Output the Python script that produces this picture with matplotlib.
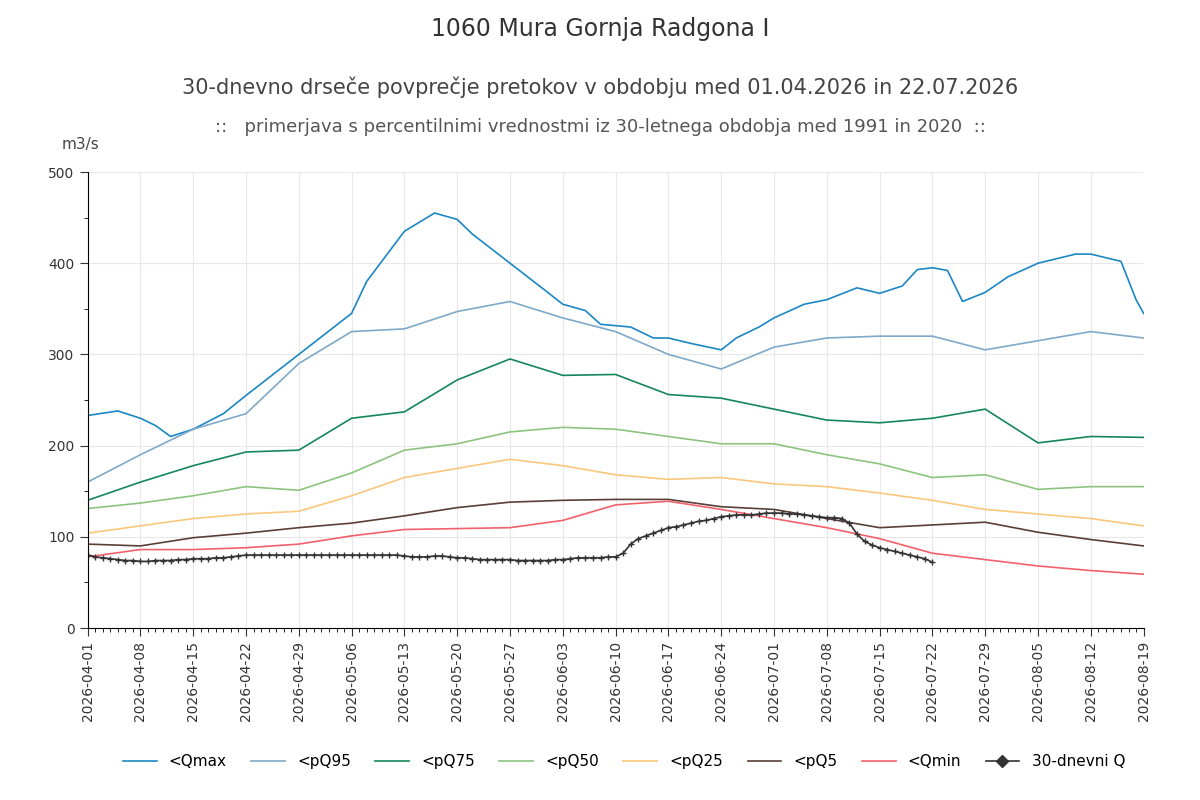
import matplotlib
matplotlib.use("Agg")
import matplotlib.pyplot as plt
import matplotlib.dates as mdates
from matplotlib.lines import Line2D
import pandas as pd

weeks = pd.date_range("2026-04-01", "2026-08-19", freq="7D")

qmax_dates = pd.to_datetime([
    "2026-04-01", "2026-04-05", "2026-04-08", "2026-04-10", "2026-04-12", "2026-04-15",
    "2026-04-19", "2026-04-22", "2026-04-29", "2026-05-06", "2026-05-08", "2026-05-13",
    "2026-05-17", "2026-05-20", "2026-05-22", "2026-05-27", "2026-06-01", "2026-06-03",
    "2026-06-06", "2026-06-08", "2026-06-12", "2026-06-15", "2026-06-17", "2026-06-20",
    "2026-06-24", "2026-06-26", "2026-06-29", "2026-07-01", "2026-07-05", "2026-07-08",
    "2026-07-12", "2026-07-15", "2026-07-18", "2026-07-20", "2026-07-22", "2026-07-24",
    "2026-07-26", "2026-07-29", "2026-08-01", "2026-08-05", "2026-08-10", "2026-08-12",
    "2026-08-16", "2026-08-18", "2026-08-19"])
qmax = [233, 238, 230, 222, 210, 218, 235, 255, 300, 345, 380, 435, 455, 448, 432, 400,
        368, 355, 348, 333, 330, 318, 318, 312, 305, 318, 330, 340, 355, 360, 373, 367,
        375, 393, 395, 392, 358, 368, 385, 400, 410, 410, 402, 360, 345]
pq95 = [160, 190, 218, 235, 290, 325, 328, 347, 358, 340, 325, 300, 284, 308, 318, 320, 320, 305, 315, 325, 318]
pq75 = [140, 160, 178, 193, 195, 230, 237, 272, 295, 277, 278, 256, 252, 240, 228, 225, 230, 240, 203, 210, 209]
pq50 = [131, 137, 145, 155, 151, 170, 195, 202, 215, 220, 218, 210, 202, 202, 190, 180, 165, 168, 152, 155, 155]
pq25 = [104, 112, 120, 125, 128, 145, 165, 175, 185, 178, 168, 163, 165, 158, 155, 148, 140, 130, 125, 120, 112]
pq5 = [92, 90, 99, 104, 110, 115, 123, 132, 138, 140, 141, 141, 133, 130, 120, 110, 113, 116, 105, 97, 90]
qmin = [78, 86, 86, 88, 92, 101, 108, 109, 110, 118, 135, 139, 130, 120, 110, 98, 82, 75, 68, 63, 59]

obs_dates = pd.date_range("2026-04-01", "2026-07-22", freq="D")
obs = [80, 78, 77, 76, 75, 74, 74, 73, 73, 74, 74, 74, 75, 75, 76, 76, 76, 77, 77, 78,
       79, 80, 80, 80, 80, 80, 80, 80, 80, 80, 80, 80, 80, 80, 80, 80, 80, 80, 80, 80,
       80, 80, 79, 78, 78, 78, 79, 79, 78, 77, 77, 76, 75, 75, 75, 75, 75, 74, 74, 74,
       74, 74, 75, 75, 76, 77, 77, 77, 77, 78, 78, 82, 92, 98, 101, 104, 107, 110, 111, 113,
       115, 117, 118, 120, 122, 123, 124, 124, 124, 125, 126, 126, 126, 125, 125, 124, 123, 122, 121, 121,
       120, 115, 103, 95, 91, 88, 86, 84, 82, 80, 78, 76, 72]

series = [
    ("<Qmax", qmax_dates, qmax, "#1b87c4"),
    ("<pQ95", weeks, pq95, "#7ea9c8"),
    ("<pQ75", weeks, pq75, "#14875a"),
    ("<pQ50", weeks, pq50, "#8cc47f"),
    ("<pQ25", weeks, pq25, "#fbc77c"),
    ("<pQ5", weeks, pq5, "#5b3e38"),
    ("<Qmin", weeks, qmin, "#f2616b"),
]

fig = plt.figure(figsize=(12, 8), dpi=100)
ax = fig.add_axes([0.073, 0.215, 0.88, 0.57])
for label, x, y, color in series:
    ax.plot(x, y, color=color, lw=1.2, label=label)
ax.plot(obs_dates, obs, color="#333333", lw=1.2, marker="+", ms=5, mew=1)

ax.set_xlim(pd.Timestamp("2026-04-01"), pd.Timestamp("2026-08-19"))
ax.set_ylim(0, 500)
ax.set_yticks(range(0, 501, 100))
ax.yaxis.set_minor_locator(matplotlib.ticker.MultipleLocator(50))
ax.set_xticks(weeks)
ax.xaxis.set_major_formatter(mdates.DateFormatter("%Y-%m-%d"))
ax.xaxis.set_minor_locator(mdates.DayLocator())
plt.setp(ax.get_xticklabels(), rotation=90)
ax.tick_params(labelsize=10, colors="#333333")
ax.tick_params(which="major", length=6)
ax.tick_params(which="minor", length=3)
ax.grid(True, color="#e8e8e8", lw=0.8)
for s in ("top", "right"):
    ax.spines[s].set_visible(False)
ax.text(-0.025, 1.05, "m3/s", transform=ax.transAxes, fontsize=11, color="#444444")

fig.text(0.5, 0.955, "1060 Mura Gornja Radgona I", ha="center", fontsize=17, color="#333333")
fig.text(0.5, 0.882, "30-dnevno drseče povprečje pretokov v obdobju med 01.04.2026 in 22.07.2026",
         ha="center", fontsize=15, color="#444444")
fig.text(0.5, 0.835, "::   primerjava s percentilnimi vrednostmi iz 30-letnega obdobja med 1991 in 2020  ::",
         ha="center", fontsize=13, color="#555555")

handles, labels = ax.get_legend_handles_labels()
handles.append(Line2D([], [], color="#333333", lw=1.2, marker="D", ms=6))
labels.append("30-dnevni Q")
fig.legend(handles, labels, loc="center", bbox_to_anchor=(0.52, 0.048), ncol=8,
           frameon=False, fontsize=11, handlelength=2.2, columnspacing=1.6)
fig.savefig("out.png", dpi=100)
